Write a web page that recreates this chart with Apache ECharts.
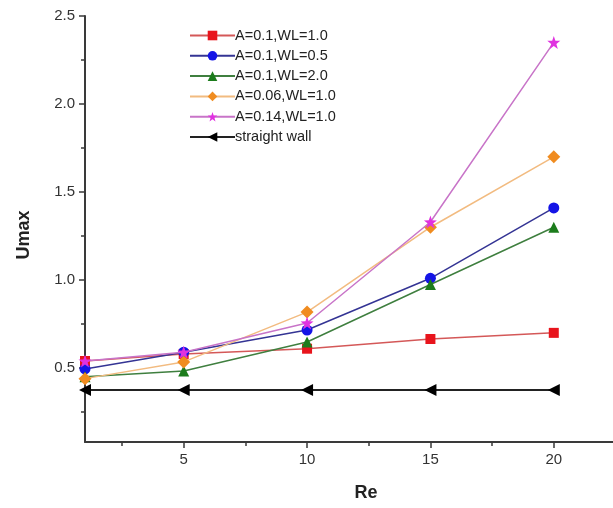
<!DOCTYPE html>
<html><head><meta charset="utf-8">
<script src="https://cdn.jsdelivr.net/npm/echarts@6/dist/echarts.min.js"></script>
<style>html,body{margin:0;padding:0;background:#fff}#c{width:613px;height:508px}</style>
</head><body><div id="c"></div>
<script>
const reValues = [1, 5, 10, 15, 20];
const seriesNames = ['A=0.1,WL=1.0','A=0.1,WL=0.5','A=0.1,WL=2.0','A=0.06,WL=1.0','A=0.14,WL=1.0','straight wall'];
const a01wl10 = [0.54, 0.58, 0.61, 0.665, 0.70];
const a01wl05 = [0.495, 0.59, 0.716, 1.01, 1.41];
const a01wl20 = [0.45, 0.483, 0.648, 0.975, 1.30];
const a006wl10 = [0.44, 0.535, 0.818, 1.30, 1.70];
const a014wl10 = [0.54, 0.59, 0.756, 1.33, 2.35];
const straightWall = [0.375, 0.375, 0.375, 0.375, 0.375];
const xLabelValues = [5, 10, 15, 20];
const xMinorValues = [2.5, 7.5, 12.5, 17.5];
const yLabelValues = [0.5, 1.0, 1.5, 2.0, 2.5];
const yMinorValues = [0.25, 0.75, 1.25, 1.75, 2.25];

const star = 'path://M0,-10 L2.35,-3.24 L9.51,-3.09 L3.8,1.24 L5.88,8.09 L0,4 L-5.88,8.09 L-3.8,1.24 L-9.51,-3.09 L-2.35,-3.24 Z';
const styles = [
  {line:'#d45858', mark:'#e8141c', symbol:'rect', size:10},
  {line:'#343494', mark:'#1414e6', symbol:'circle', size:11},
  {line:'#3f7f3f', mark:'#1c7c1c', symbol:'triangle', size:11},
  {line:'#f2bb80', mark:'#f08c20', symbol:'diamond', size:13},
  {line:'#c874c8', mark:'#e032e0', symbol:star, size:13},
  {line:'#222222', mark:'#000000', symbol:'triangle', size:12, rotate:90}
];
const dataSets = [a01wl10, a01wl05, a01wl20, a006wl10, a014wl10, straightWall];

const font = 'Liberation Sans, Arial, sans-serif';
const axisColor = '#3a3a3a';
const xMin = 1, xMax = 22.4, yMin = 0.08, yMax = 2.5;

const series = dataSets.map((d, i) => ({
  name: seriesNames[i],
  type: 'line',
  xAxisIndex: 0, yAxisIndex: 0,
  data: reValues.map((x, j) => [x, d[j]]),
  symbol: styles[i].symbol,
  symbolSize: styles[i].size,
  symbolRotate: styles[i].rotate || 0,
  showAllSymbol: true,
  lineStyle: {color: styles[i].line, width: i === 5 ? 2 : 1.5},
  itemStyle: {color: styles[i].mark},
  z: i === 5 ? 3 : 2 + i * 0.1,
  animation: false
}));

const chart = echarts.init(document.getElementById('c'), null, {renderer: 'canvas'});
chart.setOption({
  backgroundColor: '#fff',
  animation: false,
  grid: {left: 85, top: 16, right: 0, bottom: 66, containLabel: false},
  legend: {
    orient: 'vertical', left: 184, top: 23,
    itemWidth: 45, itemHeight: 12, itemGap: 5.3,
    textStyle: {fontFamily: font, fontSize: 14.5, color: '#222', padding: [0,0,0,-5]},
    data: seriesNames
  },
  xAxis: [
    {type: 'value', min: xMin, max: xMax, position: 'bottom',
     name: 'Re', nameLocation: 'middle', nameGap: 42,
     nameTextStyle: {fontFamily: font, fontSize: 18, fontWeight: 'bold', color: '#222', padding: [0,0,0,34]},
     axisLine: {show: true, onZero: false, lineStyle: {color: axisColor, width: 2}},
     axisTick: {show: true, inside: false, length: 6, customValues: xLabelValues, lineStyle: {color: axisColor, width: 1.5}},
     axisLabel: {show: true, customValues: xLabelValues, margin: 10, fontFamily: font, fontSize: 15, color: '#333'},
     splitLine: {show: false}},
    {type: 'value', min: xMin, max: xMax, position: 'bottom',
     axisLine: {show: false, onZero: false},
     axisTick: {show: true, inside: false, length: 4, customValues: xMinorValues, lineStyle: {color: axisColor, width: 1.5}},
     axisLabel: {show: false}, splitLine: {show: false}}
  ],
  yAxis: [
    {type: 'value', min: yMin, max: yMax, position: 'left',
     name: 'Umax', nameLocation: 'middle', nameGap: 52, nameRotate: 90,
     nameTextStyle: {fontFamily: font, fontSize: 18, fontWeight: 'bold', color: '#222', padding: [0,12,0,0]},
     axisLine: {show: true, onZero: false, lineStyle: {color: axisColor, width: 2}},
     axisTick: {show: true, inside: false, length: 6, customValues: yLabelValues, lineStyle: {color: axisColor, width: 1.5}},
     axisLabel: {show: true, customValues: yLabelValues, margin: 10, fontFamily: font, fontSize: 15, color: '#333',
       formatter: v => v.toFixed(1)},
     splitLine: {show: false}},
    {type: 'value', min: yMin, max: yMax, position: 'left',
     axisLine: {show: false, onZero: false},
     axisTick: {show: true, inside: false, length: 4, customValues: yMinorValues, lineStyle: {color: axisColor, width: 1.5}},
     axisLabel: {show: false}, splitLine: {show: false}}
  ],
  series: series
});
</script></body></html>
